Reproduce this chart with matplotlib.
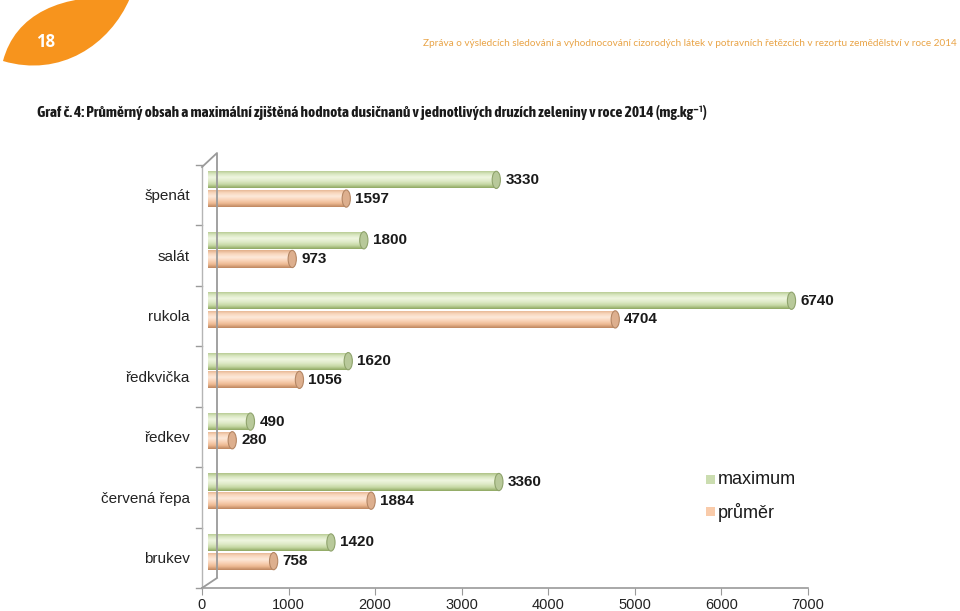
import numpy as np
import matplotlib
matplotlib.use("Agg")
import matplotlib.pyplot as plt
import matplotlib.transforms as mtransforms
from matplotlib.path import Path
from matplotlib.patches import PathPatch, Ellipse
from matplotlib.lines import Line2D

# data
kategorie = ['špenát', 'salát', 'rukola', 'ředkvička', 'ředkev', 'červená řepa', 'brukev']
maximum = [3330, 1800, 6740, 1620, 490, 3360, 1420]
prumer = [1597, 973, 4704, 1056, 280, 1884, 758]
xticks = [0, 1000, 2000, 3000, 4000, 5000, 6000, 7000]

header = ('Zpráva o výsledcích sledování a vyhodnocování cizorodých látek '
          'v potravních řetězcích v rezortu zemědělství v roce 2014')
titulek = ('Graf č. 4: Průměrný obsah a maximální zjištěná hodnota dusičnanů '
           'v jednotlivých druzích zeleniny v roce 2014 (mg.kg⁻¹)')

W, H = 960, 611
fig = plt.figure(figsize=(W / 100, H / 100), dpi=100)
fig.patch.set_facecolor('white')

def fx(px):
    return px / W

def fy(py):
    return 1 - py / H

def fit_width(t, target_px):
    # shrink/grow the font so that the text spans target_px
    r = fig.canvas.get_renderer()
    w = t.get_window_extent(r).width
    t.set_fontsize(t.get_fontsize() * target_px / w)

# orange leaf with page number
leaf = Path([(fx(3), fy(61)), (fx(15), fy(15)), (fx(60), fy(-8)), (fx(130), fy(-2)),
             (fx(110), fy(45)), (fx(60), fy(78)), (fx(3), fy(61))],
            [Path.MOVETO, Path.CURVE4, Path.CURVE4, Path.CURVE4,
             Path.CURVE4, Path.CURVE4, Path.CURVE4])
fig.patches.append(PathPatch(leaf, transform=fig.transFigure, facecolor='#F7941D',
                             edgecolor='none'))
fig.text(fx(46), fy(42), '18', color='white', fontsize=12, fontweight='bold',
         family='Open Sans', ha='center', va='center')
hd = fig.text(fx(957), fy(43), header, color='#E9A447', fontsize=7.4, family='Lato',
              ha='right', va='center')
fit_width(hd, 530)
tt = fig.text(fx(37), fy(113), titulek, color='#1a1a1a', fontsize=11, fontweight='bold',
              family=['Asap Condensed', 'Roboto', 'DejaVu Sans'], ha='left', va='center')
fit_width(tt, 668)

# chart area
ax = fig.add_axes([fx(202), fy(588), fx(808) - fx(202), fy(165) - fy(588)])
ax.patch.set_visible(False)
n = len(kategorie)
for s in ['top', 'right', 'left']:
    ax.spines[s].set_visible(False)
ax.spines['bottom'].set_color('#9a9a9a')
ax.spines['bottom'].set_linewidth(1.2)
ax.set_xticks(xticks)
ax.set_xticklabels([str(v) for v in xticks], fontsize=10.5, color='#222222',
                   family='Liberation Sans')
ax.tick_params(axis='x', length=5, color='#9a9a9a', pad=2)
ax.set_yticks([])

# category labels and left ticks
y = np.arange(n)
for i, k in enumerate(kategorie):
    ax.text(-140, i + 0.02, k, ha='right', va='center', fontsize=11,
            family='Liberation Sans', color='#222222')
for b in np.arange(n + 1) - 0.5:
    ax.plot([-70, 0], [b, b], color='#9a9a9a', lw=1, clip_on=False)

# 3d frame lines (front edge, back wall and floor corner)
tf = fig.transFigure
fig.add_artist(Line2D([fx(202), fx(202)], [fy(588), fy(166)], color='#b5b5b5', lw=1,
                      transform=tf))
fig.add_artist(Line2D([fx(202), fx(217), fx(217)], [fy(167), fy(153), fy(577)],
                      color='#9a9a9a', lw=1.3, transform=tf))
fig.add_artist(Line2D([fx(202), fx(217)], [fy(588), fy(578)], color='#9a9a9a', lw=1.3,
                      transform=tf))

# 3d offset for the bars
off = ax.transData + mtransforms.ScaledTranslation(6 / 100, 6 / 100, fig.dpi_scale_trans)

bh = 0.285
gap = 0.012
zelena = ['#AFC386', '#D8E6C0', '#EFF6E0', '#E0EBC9', '#C6D8A4', '#8FA862']
oranz = ['#E2AF89', '#F8D6BC', '#FDE9DA', '#F9D3B7', '#EDB992', '#BE8760']
cap_w = 95

def gradient_bars(vals, pos, colors, capcol, edge):
    bars = ax.barh(pos, vals, height=bh, color='none', edgecolor='none', transform=off)
    cmap = matplotlib.colors.LinearSegmentedColormap.from_list('g', colors)
    grad = np.linspace(0, 1, 64).reshape(-1, 1)
    for b in bars:
        x0, y0, w, h = b.get_x(), b.get_y(), b.get_width(), b.get_height()
        im = ax.imshow(grad, cmap=cmap, aspect='auto', interpolation='bilinear',
                       extent=(x0, x0 + w, y0 + h, y0), transform=off, zorder=2)
        im.set_clip_path(b)
        cap = Ellipse((x0 + w, y0 + h / 2), cap_w, h, facecolor=capcol,
                      edgecolor=edge, lw=0.8, transform=off, zorder=3)
        ax.add_patch(cap)
    return bars

gradient_bars(maximum, y - bh / 2 - gap, zelena, '#B8C99A', '#8FA36C')
gradient_bars(prumer, y + bh / 2 + gap, oranz, '#DDAF8E', '#B48664')
ax.set_xlim(0, 7000)
ax.set_ylim(n - 0.5, -0.5)

for i in range(n):
    ax.annotate(str(maximum[i]), (maximum[i], y[i] - bh / 2 - gap), xycoords=off,
                xytext=(9, 0), textcoords='offset pixels', ha='left', va='center',
                fontsize=11, fontweight='bold', family='Liberation Sans', color='#1a1a1a')
    ax.annotate(str(prumer[i]), (prumer[i], y[i] + bh / 2 + gap), xycoords=off,
                xytext=(9, 0), textcoords='offset pixels', ha='left', va='center',
                fontsize=11, fontweight='bold', family='Liberation Sans', color='#1a1a1a')

# legend
fig.patches.append(plt.Rectangle((fx(706), fy(484)), fx(9) - fx(0), fy(0) - fy(9),
                                 transform=tf, facecolor='#CBDDB0', edgecolor='none'))
fig.patches.append(plt.Rectangle((fx(706), fy(516)), fx(9) - fx(0), fy(0) - fy(9),
                                 transform=tf, facecolor='#F9CBAA', edgecolor='none'))
fig.text(fx(718), fy(480), 'maximum', fontsize=13, family='Liberation Sans',
         color='#1a1a1a', va='center', ha='left')
fig.text(fx(718), fy(512), 'průměr', fontsize=13, family='Liberation Sans',
         color='#1a1a1a', va='center', ha='left')

fig.savefig('out.png', dpi=100)
